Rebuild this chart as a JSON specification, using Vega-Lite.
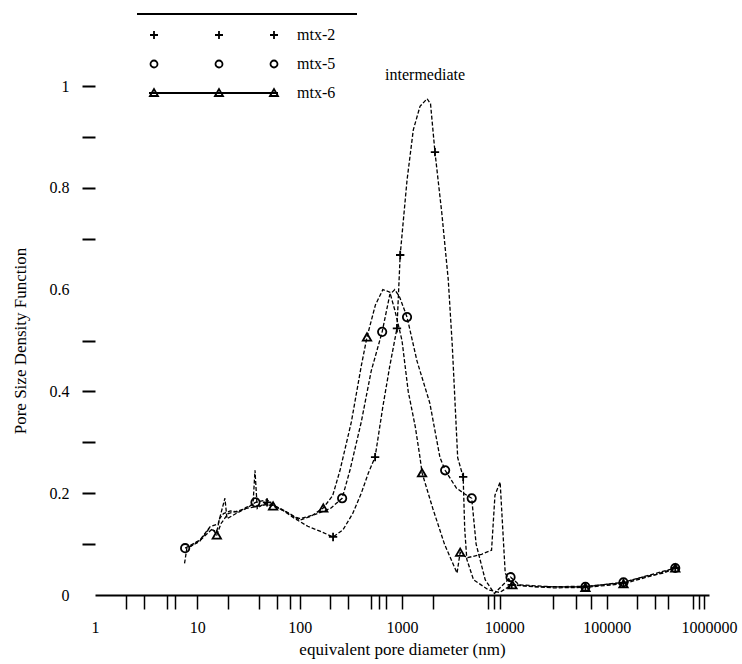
{
  "$schema": "https://vega.github.io/schema/vega-lite/v6.json",
  "width": 614,
  "height": 509,
  "autosize": {"type": "none"},
  "padding": {"left": 95, "top": 86, "right": 33, "bottom": 69},
  "background": "white",
  "config": {"view": {"stroke": null}, "font": "Liberation Serif"},
  "datasets": {
    "curves": [
      {"series": "mtx-2", "d": 7.5, "v": 0.062},
      {"series": "mtx-2", "d": 7.9, "v": 0.092},
      {"series": "mtx-2", "d": 10.5, "v": 0.105},
      {"series": "mtx-2", "d": 13, "v": 0.13},
      {"series": "mtx-2", "d": 15.5, "v": 0.125},
      {"series": "mtx-2", "d": 16.5, "v": 0.15},
      {"series": "mtx-2", "d": 18, "v": 0.16},
      {"series": "mtx-2", "d": 21, "v": 0.165},
      {"series": "mtx-2", "d": 25, "v": 0.163},
      {"series": "mtx-2", "d": 30, "v": 0.172},
      {"series": "mtx-2", "d": 35, "v": 0.178},
      {"series": "mtx-2", "d": 36.6, "v": 0.245},
      {"series": "mtx-2", "d": 38.5, "v": 0.17},
      {"series": "mtx-2", "d": 45, "v": 0.18},
      {"series": "mtx-2", "d": 55, "v": 0.176},
      {"series": "mtx-2", "d": 70, "v": 0.165},
      {"series": "mtx-2", "d": 90, "v": 0.15},
      {"series": "mtx-2", "d": 120, "v": 0.135},
      {"series": "mtx-2", "d": 160, "v": 0.125},
      {"series": "mtx-2", "d": 212, "v": 0.114},
      {"series": "mtx-2", "d": 265, "v": 0.128},
      {"series": "mtx-2", "d": 330, "v": 0.16},
      {"series": "mtx-2", "d": 400, "v": 0.2},
      {"series": "mtx-2", "d": 470, "v": 0.24},
      {"series": "mtx-2", "d": 546, "v": 0.271},
      {"series": "mtx-2", "d": 650, "v": 0.37},
      {"series": "mtx-2", "d": 760, "v": 0.45},
      {"series": "mtx-2", "d": 893, "v": 0.524},
      {"series": "mtx-2", "d": 960, "v": 0.668},
      {"series": "mtx-2", "d": 1120, "v": 0.815},
      {"series": "mtx-2", "d": 1290, "v": 0.914},
      {"series": "mtx-2", "d": 1500, "v": 0.96},
      {"series": "mtx-2", "d": 1760, "v": 0.975},
      {"series": "mtx-2", "d": 1900, "v": 0.965},
      {"series": "mtx-2", "d": 2100, "v": 0.87},
      {"series": "mtx-2", "d": 2450, "v": 0.75},
      {"series": "mtx-2", "d": 2830, "v": 0.62},
      {"series": "mtx-2", "d": 3100, "v": 0.49},
      {"series": "mtx-2", "d": 3300, "v": 0.377},
      {"series": "mtx-2", "d": 3500, "v": 0.27},
      {"series": "mtx-2", "d": 3960, "v": 0.232},
      {"series": "mtx-2", "d": 4100, "v": 0.13},
      {"series": "mtx-2", "d": 4300, "v": 0.07},
      {"series": "mtx-2", "d": 5000, "v": 0.03},
      {"series": "mtx-2", "d": 7000, "v": 0.01},
      {"series": "mtx-2", "d": 9000, "v": 0.005},
      {"series": "mtx-2", "d": 11800, "v": 0.02},
      {"series": "mtx-2", "d": 20000, "v": 0.016},
      {"series": "mtx-2", "d": 62000, "v": 0.017},
      {"series": "mtx-2", "d": 146000, "v": 0.024},
      {"series": "mtx-2", "d": 213000, "v": 0.034},
      {"series": "mtx-2", "d": 360000, "v": 0.043},
      {"series": "mtx-2", "d": 468000, "v": 0.053},
      {"series": "mtx-5", "d": 7.6, "v": 0.092},
      {"series": "mtx-5", "d": 9, "v": 0.1},
      {"series": "mtx-5", "d": 10.6, "v": 0.108},
      {"series": "mtx-5", "d": 13.3, "v": 0.134},
      {"series": "mtx-5", "d": 16, "v": 0.14},
      {"series": "mtx-5", "d": 18.6, "v": 0.19},
      {"series": "mtx-5", "d": 19.5, "v": 0.15},
      {"series": "mtx-5", "d": 24.4, "v": 0.161},
      {"series": "mtx-5", "d": 30.5, "v": 0.171},
      {"series": "mtx-5", "d": 37, "v": 0.182},
      {"series": "mtx-5", "d": 48, "v": 0.187},
      {"series": "mtx-5", "d": 55, "v": 0.177},
      {"series": "mtx-5", "d": 69, "v": 0.167},
      {"series": "mtx-5", "d": 86, "v": 0.155},
      {"series": "mtx-5", "d": 101, "v": 0.15},
      {"series": "mtx-5", "d": 140, "v": 0.158},
      {"series": "mtx-5", "d": 200, "v": 0.17},
      {"series": "mtx-5", "d": 260, "v": 0.19},
      {"series": "mtx-5", "d": 310, "v": 0.245},
      {"series": "mtx-5", "d": 400, "v": 0.34},
      {"series": "mtx-5", "d": 500, "v": 0.44},
      {"series": "mtx-5", "d": 640, "v": 0.517},
      {"series": "mtx-5", "d": 760, "v": 0.59},
      {"series": "mtx-5", "d": 850, "v": 0.6},
      {"series": "mtx-5", "d": 950, "v": 0.585},
      {"series": "mtx-5", "d": 1120, "v": 0.546},
      {"series": "mtx-5", "d": 1400, "v": 0.46},
      {"series": "mtx-5", "d": 1870, "v": 0.377},
      {"series": "mtx-5", "d": 2350, "v": 0.27},
      {"series": "mtx-5", "d": 2640, "v": 0.245},
      {"series": "mtx-5", "d": 3400, "v": 0.21},
      {"series": "mtx-5", "d": 4000, "v": 0.2},
      {"series": "mtx-5", "d": 4800, "v": 0.19},
      {"series": "mtx-5", "d": 5300, "v": 0.1},
      {"series": "mtx-5", "d": 6500, "v": 0.03},
      {"series": "mtx-5", "d": 8000, "v": 0.003},
      {"series": "mtx-5", "d": 11500, "v": 0.035},
      {"series": "mtx-5", "d": 14000, "v": 0.02},
      {"series": "mtx-5", "d": 30000, "v": 0.016},
      {"series": "mtx-5", "d": 62000, "v": 0.016},
      {"series": "mtx-5", "d": 146000, "v": 0.025},
      {"series": "mtx-5", "d": 250000, "v": 0.038},
      {"series": "mtx-5", "d": 468000, "v": 0.053},
      {"series": "mtx-6", "d": 8.5, "v": 0.095},
      {"series": "mtx-6", "d": 11, "v": 0.11},
      {"series": "mtx-6", "d": 14, "v": 0.13},
      {"series": "mtx-6", "d": 15.5, "v": 0.118},
      {"series": "mtx-6", "d": 17, "v": 0.14},
      {"series": "mtx-6", "d": 20, "v": 0.16},
      {"series": "mtx-6", "d": 25, "v": 0.165},
      {"series": "mtx-6", "d": 30, "v": 0.17},
      {"series": "mtx-6", "d": 40, "v": 0.175},
      {"series": "mtx-6", "d": 48, "v": 0.178},
      {"series": "mtx-6", "d": 60, "v": 0.172},
      {"series": "mtx-6", "d": 80, "v": 0.16},
      {"series": "mtx-6", "d": 100, "v": 0.147},
      {"series": "mtx-6", "d": 130, "v": 0.155},
      {"series": "mtx-6", "d": 170, "v": 0.171},
      {"series": "mtx-6", "d": 210, "v": 0.195},
      {"series": "mtx-6", "d": 248, "v": 0.245},
      {"series": "mtx-6", "d": 320, "v": 0.34},
      {"series": "mtx-6", "d": 400, "v": 0.45},
      {"series": "mtx-6", "d": 455, "v": 0.507},
      {"series": "mtx-6", "d": 550, "v": 0.57},
      {"series": "mtx-6", "d": 650, "v": 0.6},
      {"series": "mtx-6", "d": 760, "v": 0.595},
      {"series": "mtx-6", "d": 850, "v": 0.56},
      {"series": "mtx-6", "d": 1000, "v": 0.5},
      {"series": "mtx-6", "d": 1150, "v": 0.4},
      {"series": "mtx-6", "d": 1350, "v": 0.33},
      {"series": "mtx-6", "d": 1500, "v": 0.27},
      {"series": "mtx-6", "d": 1570, "v": 0.24},
      {"series": "mtx-6", "d": 2000, "v": 0.17},
      {"series": "mtx-6", "d": 2600, "v": 0.1},
      {"series": "mtx-6", "d": 3450, "v": 0.043},
      {"series": "mtx-6", "d": 3700, "v": 0.084},
      {"series": "mtx-6", "d": 4300, "v": 0.073},
      {"series": "mtx-6", "d": 6000, "v": 0.08},
      {"series": "mtx-6", "d": 7500, "v": 0.088},
      {"series": "mtx-6", "d": 8100, "v": 0.196},
      {"series": "mtx-6", "d": 9100, "v": 0.222},
      {"series": "mtx-6", "d": 10200, "v": 0.043},
      {"series": "mtx-6", "d": 12000, "v": 0.02},
      {"series": "mtx-6", "d": 30000, "v": 0.014},
      {"series": "mtx-6", "d": 62000, "v": 0.015},
      {"series": "mtx-6", "d": 146000, "v": 0.022},
      {"series": "mtx-6", "d": 300000, "v": 0.04},
      {"series": "mtx-6", "d": 468000, "v": 0.053}
    ],
    "markers": [
      {"series": "mtx-2", "d": 48, "v": 0.182},
      {"series": "mtx-2", "d": 212, "v": 0.114},
      {"series": "mtx-2", "d": 546, "v": 0.271},
      {"series": "mtx-2", "d": 893, "v": 0.524},
      {"series": "mtx-2", "d": 960, "v": 0.668},
      {"series": "mtx-2", "d": 2100, "v": 0.87},
      {"series": "mtx-2", "d": 3960, "v": 0.232},
      {"series": "mtx-2", "d": 11800, "v": 0.02},
      {"series": "mtx-2", "d": 62000, "v": 0.017},
      {"series": "mtx-2", "d": 146000, "v": 0.024},
      {"series": "mtx-2", "d": 468000, "v": 0.053},
      {"series": "mtx-5", "d": 7.6, "v": 0.092},
      {"series": "mtx-5", "d": 37, "v": 0.182},
      {"series": "mtx-5", "d": 260, "v": 0.19},
      {"series": "mtx-5", "d": 640, "v": 0.517},
      {"series": "mtx-5", "d": 1120, "v": 0.546},
      {"series": "mtx-5", "d": 2640, "v": 0.245},
      {"series": "mtx-5", "d": 4800, "v": 0.19},
      {"series": "mtx-5", "d": 11500, "v": 0.035},
      {"series": "mtx-5", "d": 62000, "v": 0.016},
      {"series": "mtx-5", "d": 146000, "v": 0.025},
      {"series": "mtx-5", "d": 468000, "v": 0.053},
      {"series": "mtx-6", "d": 15.5, "v": 0.118},
      {"series": "mtx-6", "d": 55, "v": 0.175},
      {"series": "mtx-6", "d": 170, "v": 0.171},
      {"series": "mtx-6", "d": 455, "v": 0.507},
      {"series": "mtx-6", "d": 1570, "v": 0.24},
      {"series": "mtx-6", "d": 3700, "v": 0.084},
      {"series": "mtx-6", "d": 12000, "v": 0.02},
      {"series": "mtx-6", "d": 62000, "v": 0.015},
      {"series": "mtx-6", "d": 146000, "v": 0.022},
      {"series": "mtx-6", "d": 468000, "v": 0.053}
    ],
    "notes": [
      {"note": "intermediate", "d": 1680, "v": 1.022}
    ]
  },
  "encoding": {
    "x": {
      "field": "d",
      "type": "quantitative",
      "scale": {"type": "log", "domain": [1, 1000000], "nice": false},
      "axis": {
        "title": "equivalent pore diameter (nm)",
        "values": [1, 2, 3, 5, 6, 10, 20, 40, 60, 80, 100, 200, 300, 500, 600, 700, 1000, 2000, 7000, 8000, 9000, 10000, 30000, 50000, 70000, 100000, 200000, 300000, 400000, 700000, 800000, 900000, 1000000],
        "labelExpr": "indexof([1,10,100,1000,10000,100000,1000000], datum.value) >= 0 ? format(datum.value, 'd') : ''",
        "labelOverlap": false,
        "labelFlush": false,
        "labelFont": "Liberation Serif",
        "labelFontSize": 16,
        "labelColor": "black",
        "labelPadding": 10,
        "grid": false,
        "domain": true,
        "domainColor": "black",
        "domainWidth": 2,
        "ticks": true,
        "tickColor": "black",
        "tickWidth": 1.5,
        "tickSize": 14,
        "tickOpacity": {"condition": {"test": "datum.value == 1 || datum.value == 10000 || datum.value == 1000000", "value": 0}, "value": 1},
        "titleFont": "Liberation Serif",
        "titleFontSize": 17,
        "titleFontWeight": "normal",
        "titleColor": "black",
        "titlePadding": 6
      }
    },
    "y": {
      "field": "v",
      "type": "quantitative",
      "scale": {"domain": [0, 1], "nice": false, "zero": true},
      "axis": {
        "title": "Pore Size Density Function",
        "values": [0, 0.1, 0.2, 0.3, 0.4, 0.5, 0.6, 0.7, 0.8, 0.9, 1],
        "format": ".1~f",
        "labelExpr": "indexof(['0','0.2','0.4','0.6','0.8','1'], datum.label) >= 0 ? datum.label : ''",
        "labelOverlap": false,
        "labelFont": "Liberation Serif",
        "labelFontSize": 16,
        "labelColor": "black",
        "labelPadding": 13,
        "grid": false,
        "domain": false,
        "tickColor": "black",
        "tickWidth": 2,
        "tickSize": 13,
        "tickOpacity": {"condition": {"test": "datum.value == 0 || datum.value == 0.6", "value": 0}, "value": 1},
        "titleFont": "Liberation Serif",
        "titleFontSize": 17,
        "titleFontWeight": "normal",
        "titleColor": "black",
        "titlePadding": 20
      }
    }
  },
  "resolve": {"scale": {"shape": "independent"}},
  "layer": [
    {
      "data": {"name": "curves"},
      "mark": {"type": "line", "color": "black", "strokeWidth": 1.3, "strokeDash": [4, 2]},
      "encoding": {"detail": {"field": "series", "type": "nominal"}}
    },
    {
      "data": {"name": "markers"},
      "mark": {"type": "point", "filled": false, "color": "black", "strokeWidth": 1.8, "size": 70, "opacity": 1},
      "encoding": {
        "shape": {
          "field": "series",
          "type": "nominal",
          "scale": {"domain": ["mtx-2", "mtx-5", "mtx-6"], "range": ["M-1,0H1M0,-1V1", "circle", "triangle-up"]},
          "legend": null
        }
      }
    },
    {
      "data": {"name": "markers"},
      "transform": [{"filter": "datum.v > 5"}],
      "mark": {"type": "point", "filled": false, "color": "black", "strokeWidth": 1.6, "opacity": 1},
      "encoding": {
        "shape": {
          "field": "series",
          "type": "nominal",
          "scale": {"domain": ["mtx-2", "mtx-5", "mtx-6"], "range": [
            "M-132,-21H88M-119,0H-111M-115,-4V4M-54,0H-46M-50,-4V4M1,0H9M5,-4V4",
            "M-111.5,0A3.5,3.5,0,1,0,-118.5,0A3.5,3.5,0,1,0,-111.5,0M-46.5,0A3.5,3.5,0,1,0,-53.5,0A3.5,3.5,0,1,0,-46.5,0M8.5,0A3.5,3.5,0,1,0,1.5,0A3.5,3.5,0,1,0,8.5,0",
            "M-120,0H9M-119,3L-115,-4L-111,3ZM-54,3L-50,-4L-46,3ZM1,3L5,-4L9,3Z"
          ]},
          "legend": {
            "title": null,
            "orient": "none",
            "legendX": 41,
            "legendY": -72,
            "padding": 13,
            "symbolOffset": 112,
            "labelOffset": 20,
            "rowPadding": 13,
            "labelFont": "Liberation Serif",
            "labelFontSize": 16,
            "labelColor": "black",
            "symbolSize": 4,
            "symbolStrokeWidth": 1.8,
            "symbolStrokeColor": "black",
            "symbolFillColor": "transparent"
          }
        }
      }
    },
    {
      "data": {"name": "notes"},
      "mark": {"type": "text", "font": "Liberation Serif", "fontSize": 16, "color": "black", "baseline": "middle", "align": "center"},
      "encoding": {"text": {"field": "note", "type": "nominal"}}
    }
  ]
}
